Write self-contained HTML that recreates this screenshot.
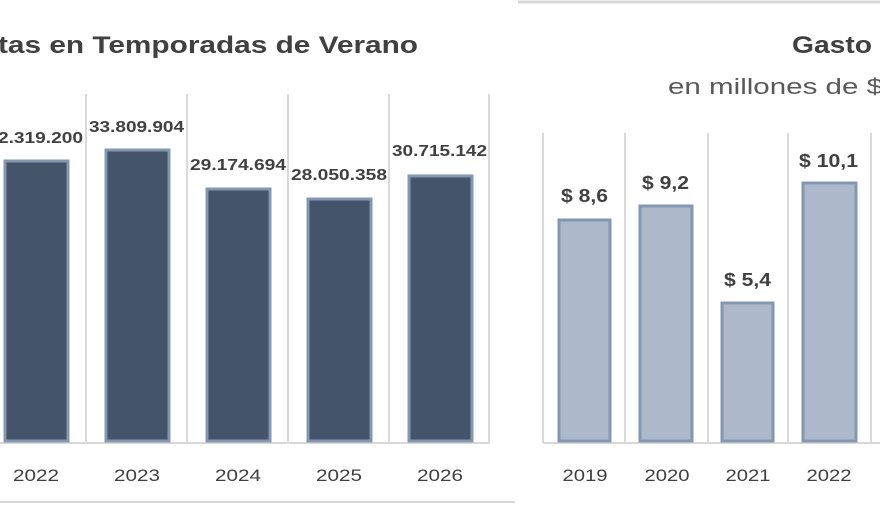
<!DOCTYPE html>
<html><head><meta charset="utf-8"><style>
body{margin:0;width:880px;height:506px;background:#fff;overflow:hidden;font-family:"Liberation Sans",sans-serif}
svg text{font-family:"Liberation Sans",sans-serif}
</style></head><body>
<svg width="880" height="506" viewBox="0 0 880 506">
<line x1="518" y1="2" x2="880" y2="2" stroke="#d9d9d9" stroke-width="3"/>
<line x1="0" y1="502" x2="515" y2="502" stroke="#d9d9d9" stroke-width="2"/>
<text x="-2" y="53" font-size="24" font-weight="bold" fill="#404040" textLength="420" lengthAdjust="spacingAndGlyphs">tas en Temporadas de Verano</text>
<text x="792" y="53" font-size="24" font-weight="bold" fill="#404040" textLength="80" lengthAdjust="spacingAndGlyphs">Gasto</text>
<text x="668" y="94" font-size="22" fill="#595959" textLength="215" lengthAdjust="spacingAndGlyphs">en millones de $</text>
<g stroke="#d9d9d9" stroke-width="2">
<line x1="86" y1="94" x2="86" y2="443"/><line x1="187" y1="94" x2="187" y2="443"/><line x1="288" y1="94" x2="288" y2="443"/><line x1="389" y1="94" x2="389" y2="443"/><line x1="489" y1="94" x2="489" y2="443"/>
<line x1="0" y1="443" x2="490" y2="443"/>
<line x1="543" y1="133" x2="543" y2="443"/><line x1="625" y1="133" x2="625" y2="443"/><line x1="708" y1="133" x2="708" y2="443"/><line x1="788" y1="133" x2="788" y2="443"/><line x1="871" y1="133" x2="871" y2="443"/>
<line x1="543" y1="443" x2="880" y2="443"/>
</g>
<g fill="#44546a" stroke="#8497b0" stroke-width="3">
<rect x="5" y="161" width="63" height="280"/><rect x="106" y="150" width="63" height="291"/><rect x="207" y="189" width="63" height="252"/><rect x="308" y="199" width="63" height="242"/><rect x="409" y="176" width="63" height="265"/>
</g>
<g fill="#adb9ca" stroke="#8497b0" stroke-width="3">
<rect x="559" y="220" width="51" height="221"/><rect x="640" y="206" width="52" height="235"/><rect x="722" y="303" width="51" height="138"/><rect x="803" y="183" width="53" height="258"/>
</g>
<g font-size="16" font-weight="bold" fill="#404040" lengthAdjust="spacingAndGlyphs">
<text x="-2" y="143" textLength="85" lengthAdjust="spacingAndGlyphs">2.319.200</text>
<text x="89" y="132" textLength="95" lengthAdjust="spacingAndGlyphs">33.809.904</text>
<text x="190" y="170" textLength="96" lengthAdjust="spacingAndGlyphs">29.174.694</text>
<text x="291" y="180" textLength="96" lengthAdjust="spacingAndGlyphs">28.050.358</text>
<text x="392" y="156" textLength="95" lengthAdjust="spacingAndGlyphs">30.715.142</text>
<text x="561" y="202" font-size="18" textLength="47" lengthAdjust="spacingAndGlyphs">$ 8,6</text>
<text x="642" y="189" font-size="18" textLength="47" lengthAdjust="spacingAndGlyphs">$ 9,2</text>
<text x="724" y="286" font-size="18" textLength="47" lengthAdjust="spacingAndGlyphs">$ 5,4</text>
<text x="799" y="167" font-size="18" textLength="59" lengthAdjust="spacingAndGlyphs">$ 10,1</text>
</g>
<g font-size="17" fill="#404040" text-anchor="middle">
<text x="36" y="481" textLength="46" lengthAdjust="spacingAndGlyphs">2022</text><text x="137" y="481" textLength="46" lengthAdjust="spacingAndGlyphs">2023</text><text x="238" y="481" textLength="46" lengthAdjust="spacingAndGlyphs">2024</text><text x="339" y="481" textLength="46" lengthAdjust="spacingAndGlyphs">2025</text><text x="440" y="481" textLength="46" lengthAdjust="spacingAndGlyphs">2026</text>
<text x="585" y="481" textLength="45" lengthAdjust="spacingAndGlyphs">2019</text><text x="667" y="481" textLength="45" lengthAdjust="spacingAndGlyphs">2020</text><text x="748" y="481" textLength="45" lengthAdjust="spacingAndGlyphs">2021</text><text x="829" y="481" textLength="45" lengthAdjust="spacingAndGlyphs">2022</text>
</g>
</svg>
</body></html>
